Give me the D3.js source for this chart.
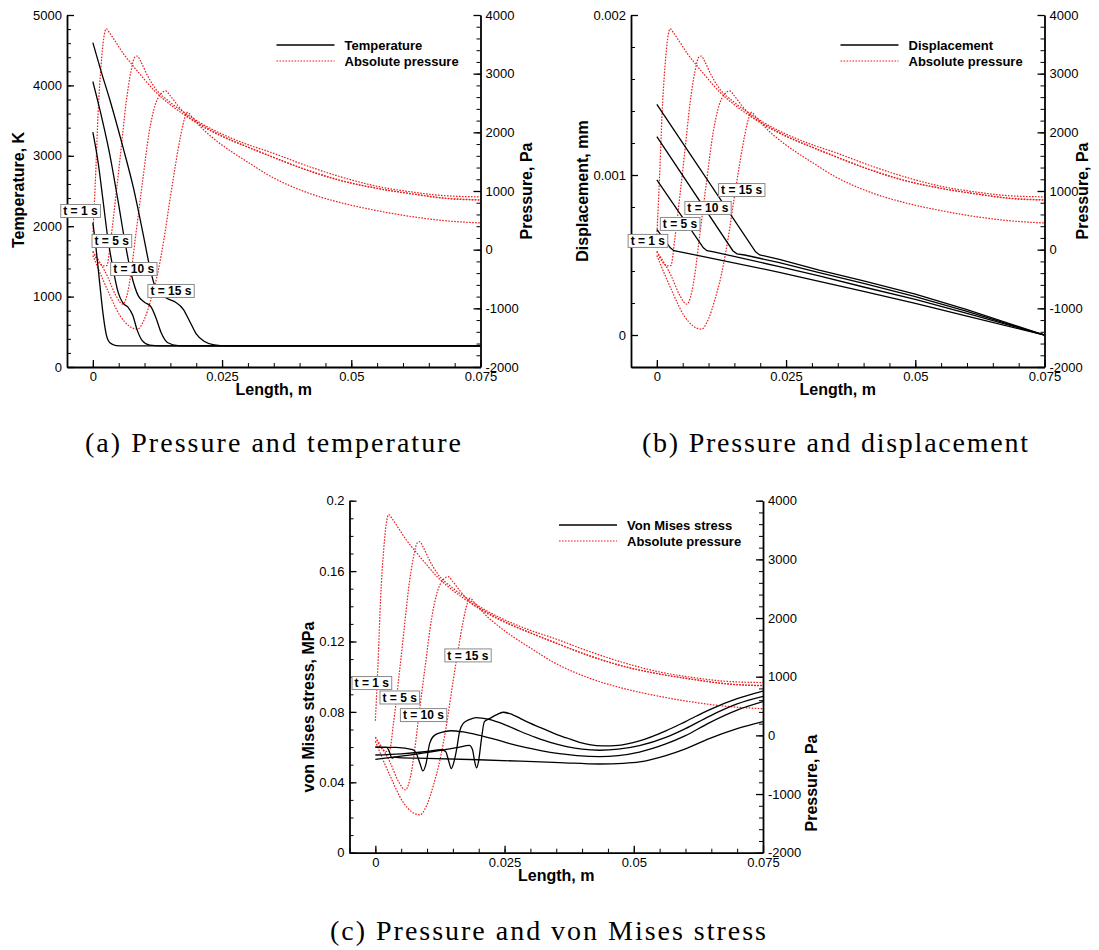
<!DOCTYPE html>
<html>
<head>
<meta charset="utf-8">
<script src="https://cdn.jsdelivr.net/npm/d3@7"></script>
<style>
body { margin: 0; background: #fff; }
svg { display: block; font-family: "Liberation Sans", Arial, sans-serif; }
</style>
</head>
<body>
<div id="chart"></div>
<script>
// ---- data ----
const xTicks = [0, 0.025, 0.05, 0.075];
const tempTicks = [0, 1000, 2000, 3000, 4000, 5000];
const dispTicks = [0, 0.001, 0.002];
const stressTicks = [0, 0.04, 0.08, 0.12, 0.16, 0.2];
const pressTicks = [-2000, -1000, 0, 1000, 2000, 3000, 4000];
const timeLabels = ["t = 1 s", "t = 5 s", "t = 10 s", "t = 15 s"];

// absolute pressure [x (m), p (Pa)]
const pressure_t1 = [[0,250],[0.0006,1400],[0.001,2300],[0.0016,3150],[0.0021,3600],[0.0026,3765],[0.0032,3700],[0.0042,3570],[0.006,3330],[0.008,3110],[0.010,2900],[0.012,2700],[0.015,2470],[0.018,2280],[0.021,2110],[0.025,1930],[0.030,1745],[0.0344,1590],[0.0414,1360],[0.048,1180],[0.055,1045],[0.062,950],[0.068,880],[0.075,850]];
const pressure_t5 = [[0,-30],[0.001,-200],[0.002,-275],[0.0027,-270],[0.0035,200],[0.0045,950],[0.0055,1750],[0.0064,2480],[0.0074,3050],[0.0081,3280],[0.0086,3300],[0.0093,3200],[0.0105,2980],[0.012,2760],[0.015,2510],[0.018,2320],[0.021,2150],[0.025,1970],[0.030,1790],[0.0344,1660],[0.0414,1430],[0.048,1240],[0.055,1080],[0.062,980],[0.068,920],[0.075,900]];
const pressure_t10 = [[0,-30],[0.0028,-450],[0.0045,-790],[0.0058,-930],[0.0066,-780],[0.0073,-450],[0.0083,250],[0.0096,1150],[0.0109,2000],[0.012,2450],[0.0132,2660],[0.0141,2705],[0.015,2620],[0.0165,2450],[0.018,2300],[0.021,2130],[0.025,1940],[0.030,1750],[0.0344,1595],[0.0414,1355],[0.048,1175],[0.055,1045],[0.062,945],[0.068,875],[0.075,845]];
const pressure_t15 = [[0,-100],[0.0028,-680],[0.0053,-1130],[0.007,-1300],[0.0086,-1355],[0.010,-1180],[0.0112,-860],[0.0125,-420],[0.0138,200],[0.015,900],[0.016,1450],[0.017,1950],[0.0178,2250],[0.0183,2340],[0.0192,2260],[0.021,2080],[0.024,1850],[0.027,1660],[0.030,1490],[0.0344,1250],[0.0414,975],[0.048,800],[0.055,665],[0.062,560],[0.068,495],[0.075,455]];

// temperature [x (m), T (K)]
const temperature_t1 = [[0,2050],[0.0006,1700],[0.0013,1210],[0.002,740],[0.0026,460],[0.0033,345],[0.0045,305],[0.006,300],[0.075,300]];
const temperature_t5 = [[0,3335],[0.001,2916],[0.002,2348],[0.0029,1828],[0.0039,1402],[0.0049,1060],[0.0058,910],[0.0068,850],[0.0077,740],[0.0086,520],[0.0096,370],[0.011,310],[0.013,300],[0.075,300]];
const temperature_t10 = [[0,4055],[0.0016,3580],[0.0033,3011],[0.0049,2348],[0.0062,1780],[0.0075,1300],[0.0088,1010],[0.010,920],[0.0112,860],[0.0122,700],[0.0132,490],[0.0145,345],[0.0165,305],[0.019,300],[0.075,300]];
const temperature_t15 = [[0,4607],[0.0016,4200],[0.0033,3793],[0.0058,3130],[0.0078,2561],[0.0097,1899],[0.011,1425],[0.0123,1094],[0.0143,976],[0.016,920],[0.0175,820],[0.0188,640],[0.020,470],[0.0215,365],[0.0235,315],[0.026,302],[0.030,300],[0.075,300]];

// displacement [x (m), d (mm)]
const displacement_t1 = [[0,0.00066],[0.0026,0.000545],[0.0033,0.000527],[0.0045,0.00052],[0.0237,0.000392],[0.0314,0.000335],[0.04,0.000272],[0.05,0.000198],[0.06,0.000118],[0.075,0]];
const displacement_t5 = [[0,0.00097],[0.009,0.000545],[0.0097,0.000527],[0.011,0.00052],[0.0237,0.000427],[0.0314,0.000369],[0.04,0.0003],[0.05,0.000222],[0.06,0.000135],[0.075,0]];
const displacement_t10 = [[0,0.00124],[0.0147,0.000527],[0.0155,0.000507],[0.017,0.0005],[0.0237,0.000452],[0.0314,0.00039],[0.04,0.000322],[0.05,0.00024],[0.06,0.000147],[0.075,0]];
const displacement_t15 = [[0,0.001442],[0.0191,0.00052],[0.0199,0.0005],[0.0212,0.000492],[0.0237,0.000473],[0.0314,0.000406],[0.04,0.000338],[0.05,0.000255],[0.06,0.000158],[0.075,0]];

// von Mises stress [x (m), s (MPa)]
const stress_t1 = [[0,0.060],[0.0022,0.0598],[0.0027,0.0575],[0.0032,0.0538],[0.0037,0.0543],[0.0045,0.054],[0.010,0.0536],[0.020,0.0528],[0.028,0.052],[0.0356,0.0512],[0.0434,0.0504],[0.048,0.0508],[0.0511,0.0516],[0.0562,0.0552],[0.060,0.059],[0.0646,0.0648],[0.070,0.0705],[0.075,0.0745]];
const stress_t5 = [[0,0.060],[0.004,0.0598],[0.0072,0.0585],[0.0079,0.0565],[0.0086,0.051],[0.0092,0.0465],[0.0098,0.0505],[0.0105,0.062],[0.0115,0.0668],[0.0128,0.0683],[0.0145,0.0693],[0.017,0.0686],[0.020,0.0668],[0.023,0.0645],[0.026,0.062],[0.029,0.0598],[0.032,0.058],[0.0356,0.0563],[0.039,0.0552],[0.0434,0.0546],[0.047,0.0552],[0.0511,0.0572],[0.0562,0.0618],[0.060,0.0665],[0.0646,0.0738],[0.070,0.081],[0.075,0.0858]];
const stress_t10 = [[0,0.0555],[0.005,0.0562],[0.010,0.0575],[0.0128,0.0585],[0.0136,0.0575],[0.0142,0.052],[0.0147,0.0478],[0.0152,0.0515],[0.0157,0.0583],[0.0163,0.0688],[0.017,0.0735],[0.0183,0.0758],[0.0195,0.0768],[0.022,0.0757],[0.025,0.0728],[0.028,0.069],[0.031,0.0655],[0.034,0.0625],[0.037,0.0603],[0.040,0.0588],[0.0434,0.0582],[0.047,0.0588],[0.0511,0.0608],[0.0562,0.0655],[0.060,0.0705],[0.0646,0.0775],[0.070,0.0845],[0.075,0.0888]];
const stress_t15 = [[0,0.053],[0.004,0.0545],[0.008,0.056],[0.012,0.0578],[0.016,0.0598],[0.0182,0.061],[0.0188,0.0585],[0.0192,0.052],[0.0196,0.0482],[0.020,0.0525],[0.0205,0.064],[0.0211,0.0745],[0.0221,0.0762],[0.0235,0.0785],[0.0247,0.0798],[0.0265,0.0785],[0.0285,0.0756],[0.031,0.0722],[0.0331,0.0697],[0.035,0.0672],[0.037,0.0652],[0.0395,0.0627],[0.0414,0.0614],[0.044,0.0607],[0.047,0.061],[0.0511,0.0635],[0.0562,0.0692],[0.060,0.0745],[0.0646,0.0812],[0.070,0.0875],[0.075,0.0918]];

const pressureSeries = [pressure_t1, pressure_t5, pressure_t10, pressure_t15];

// ---- layout ----
const svg = d3.select("#chart")
    .append("svg")
    .attr("width", 1099)
    .attr("height", 950);

const red = "#ee1c1c";

function fmt(d) {
    return d === 0 ? "0" : String(d);
}

function minorTicks(domain, step) {
    const out = [];
    const n = Math.round((domain[1] - domain[0]) / step);
    for (let i = 0; i <= n; i++) out.push(+(domain[0] + i * step).toFixed(6));
    return out;
}

function drawPanel(p) {
    const g = svg.append("g");

    const x = d3.scaleLinear().domain([-0.005, 0.075]).range([p.left, p.right]);
    const yL = d3.scaleLinear().domain(p.leftDomain).range([p.bottom, p.top]);
    const yR = d3.scaleLinear().domain([-2000, 4000]).range([p.bottom, p.top]);

    svg.append("clipPath").attr("id", "clip-" + p.id)
        .append("rect")
        .attr("x", p.left).attr("y", p.top)
        .attr("width", p.right - p.left).attr("height", p.bottom - p.top);

    const plot = g.append("g").attr("clip-path", `url(#clip-${p.id})`);

    const lineR = d3.line().x(d => x(d[0])).y(d => yR(d[1])).curve(d3.curveMonotoneX);
    const lineL = d3.line().x(d => x(d[0])).y(d => yL(d[1])).curve(p.curve);

    plot.selectAll("path.press")
        .data(pressureSeries)
        .enter()
        .append("path")
        .attr("class", "press")
        .attr("d", lineR)
        .attr("fill", "none")
        .attr("stroke", red)
        .attr("stroke-width", 1.2)
        .attr("stroke-dasharray", "1.6,1.4");

    plot.selectAll("path.main")
        .data(p.series)
        .enter()
        .append("path")
        .attr("class", "main")
        .attr("d", lineL)
        .attr("fill", "none")
        .attr("stroke", "#000")
        .attr("stroke-width", 1.3);

    // axes: minor ticks first
    const minorX = minorTicks([-0.005, 0.075], 0.005);
    g.append("g").attr("transform", `translate(0,${p.bottom})`)
        .call(d3.axisBottom(x).tickValues(minorX).tickSize(-4).tickFormat(""))
        .call(a => a.select(".domain").remove());
    g.append("g").attr("transform", `translate(${p.left},0)`)
        .call(d3.axisLeft(yL).tickValues(minorTicks(p.leftDomain, p.leftMinor)).tickSize(-4).tickFormat(""))
        .call(a => a.select(".domain").remove());
    g.append("g").attr("transform", `translate(${p.right},0)`)
        .call(d3.axisRight(yR).tickValues(minorTicks([-2000, 4000], 200)).tickSize(-4).tickFormat(""))
        .call(a => a.select(".domain").remove());

    const xAxis = g.append("g").attr("transform", `translate(0,${p.bottom})`)
        .call(d3.axisBottom(x).tickValues(xTicks).tickSize(-7).tickSizeOuter(0).tickPadding(5).tickFormat(fmt));
    const lAxis = g.append("g").attr("transform", `translate(${p.left},0)`)
        .call(d3.axisLeft(yL).tickValues(p.leftTicks).tickSize(-7).tickSizeOuter(0).tickPadding(5).tickFormat(fmt));
    const rAxis = g.append("g").attr("transform", `translate(${p.right},0)`)
        .call(d3.axisRight(yR).tickValues(pressTicks).tickSize(-7).tickSizeOuter(0).tickPadding(5).tickFormat(fmt));

    [xAxis, lAxis, rAxis].forEach(a => {
        a.select(".domain").attr("stroke-width", 1.8);
        a.selectAll(".tick line").attr("stroke-width", 1.3);
        a.selectAll("text").style("font-size", "13px").attr("fill", "#000");
    });
    g.selectAll(".tick line").attr("stroke", "#000");

    // axis titles
    g.append("text")
        .attr("x", (p.left + p.right) / 2)
        .attr("y", p.bottom + 28)
        .attr("text-anchor", "middle")
        .style("font-size", "16px").style("font-weight", "bold")
        .text("Length, m");
    g.append("text")
        .attr("transform", `translate(${p.left - p.leftTitleOffset},${p.leftTitleY}) rotate(-90)`)
        .attr("text-anchor", "middle").attr("dy", "0.35em")
        .style("font-size", "16px").style("font-weight", "bold")
        .text(p.leftTitle);
    g.append("text")
        .attr("transform", `translate(${p.right + p.rightTitleOffset},${p.rightTitleY}) rotate(-90)`)
        .attr("text-anchor", "middle").attr("dy", "0.35em")
        .style("font-size", "16px").style("font-weight", "bold")
        .text("Pressure, Pa");

    // time labels
    p.labels.forEach((pos, i) => {
        const lg = g.append("g")
            .attr("transform", `translate(${x(pos[0])},${yL(pos[1])})`);
        const t = lg.append("text")
            .attr("text-anchor", "middle")
            .attr("dy", "0.36em")
            .style("font-size", "12px").style("font-weight", "bold")
            .text(timeLabels[i]);
        const b = t.node().getBBox();
        lg.insert("rect", "text")
            .attr("x", b.x - 2.5).attr("y", -6.5)
            .attr("width", b.width + 5).attr("height", 13)
            .attr("fill", "#fff")
            .attr("stroke", "#8a8a8a")
            .attr("stroke-width", 1);
    });

    // legend
    const lx = p.right - 204;
    const leg = g.append("g");
    leg.append("line")
        .attr("x1", lx).attr("x2", lx + 58)
        .attr("y1", p.legendY).attr("y2", p.legendY)
        .attr("stroke", "#000").attr("stroke-width", 1.3);
    leg.append("line")
        .attr("x1", lx).attr("x2", lx + 58)
        .attr("y1", p.legendY + 16).attr("y2", p.legendY + 16)
        .attr("stroke", red).attr("stroke-width", 1.2).attr("stroke-dasharray", "1.6,1.4");
    leg.append("text")
        .attr("x", lx + 68).attr("y", p.legendY).attr("dy", "0.35em")
        .style("font-size", "13px").style("font-weight", "bold")
        .text(p.legendName);
    leg.append("text")
        .attr("x", lx + 68).attr("y", p.legendY + 16).attr("dy", "0.35em")
        .style("font-size", "13px").style("font-weight", "bold")
        .text("Absolute pressure");

    // caption
    svg.append("text")
        .attr("x", p.captionX).attr("y", p.captionY)
        .attr("text-anchor", "middle")
        .attr("textLength", p.captionW).attr("lengthAdjust", "spacing")
        .style("font-family", "'Liberation Serif', 'DejaVu Serif', serif")
        .style("font-size", "28px")
        .text(p.caption);
}

drawPanel({
    id: "a", left: 67, right: 480.5, top: 15, bottom: 367,
    leftDomain: [0, 5000], leftTicks: tempTicks, leftMinor: 200,
    series: [temperature_t1, temperature_t5, temperature_t10, temperature_t15],
    curve: d3.curveMonotoneX,
    leftTitle: "Temperature, K", leftTitleOffset: 49, leftTitleY: 190,
    rightTitleOffset: 46, rightTitleY: 191,
    labels: [[-0.0024, 2216], [0.00365, 1790], [0.0079, 1392], [0.0151, 1080]],
    legendName: "Temperature", legendY: 45,
    caption: "(a) Pressure and temperature", captionX: 273, captionY: 452, captionW: 376
});

drawPanel({
    id: "b", left: 631, right: 1044.5, top: 15, bottom: 367,
    leftDomain: [-0.0002, 0.002], leftTicks: dispTicks, leftMinor: 0.0002,
    series: [displacement_t1, displacement_t5, displacement_t10, displacement_t15],
    curve: d3.curveLinear,
    leftTitle: "Displacement, mm", leftTitleOffset: 49, leftTitleY: 191,
    rightTitleOffset: 38, rightTitleY: 191,
    labels: [[-0.00175, 0.000588], [0.00448, 0.000694], [0.00987, 0.000794], [0.0164, 0.000906]],
    legendName: "Displacement", legendY: 45,
    caption: "(b) Pressure and displacement", captionX: 835, captionY: 452, captionW: 386
});

drawPanel({
    id: "c", left: 349.5, right: 763, top: 500.7, bottom: 852.7,
    leftDomain: [0, 0.2], leftTicks: stressTicks, leftMinor: 0.01,
    series: [stress_t1, stress_t5, stress_t10, stress_t15],
    curve: d3.curveMonotoneX,
    leftTitle: "von Mises stress, MPa", leftTitleOffset: 41, leftTitleY: 707,
    rightTitleOffset: 48, rightTitleY: 783,
    labels: [[-0.0007, 0.0964], [0.0047, 0.0882], [0.0093, 0.0782], [0.0179, 0.1121]],
    legendName: "Von Mises stress", legendY: 525,
    caption: "(c) Pressure and von Mises stress", captionX: 548, captionY: 940, captionW: 436
});
</script>
</body>
</html>
